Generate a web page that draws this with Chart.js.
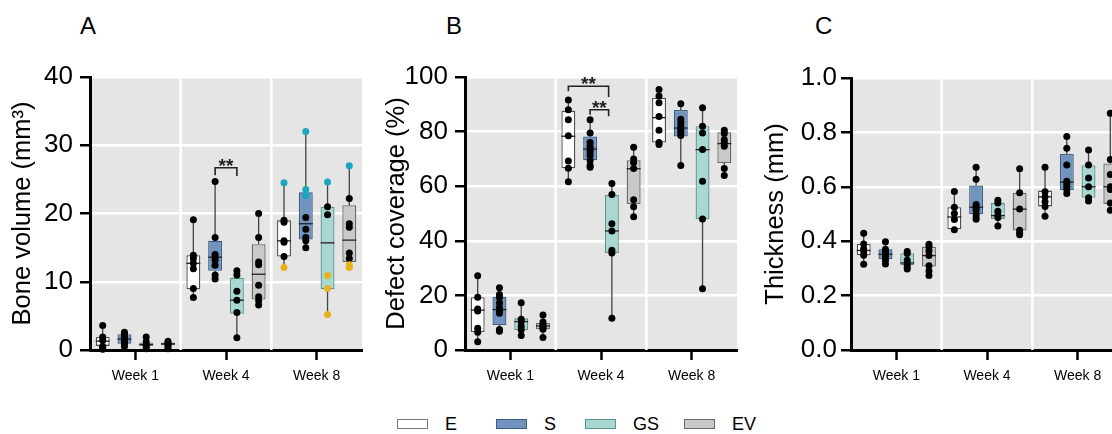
<!DOCTYPE html>
<html>
<head>
<meta charset="utf-8">
<script src="https://cdn.jsdelivr.net/npm/chart.js@4/dist/chart.umd.min.js"></script>
<style>
  html, body { margin:0; padding:0; background:#fff; width:1112px; height:434px; overflow:hidden; position:relative; font-family:"Liberation Sans", Arial, sans-serif; }
  canvas { position:absolute; top:0; }
  .plab { position:absolute; font-size:24px; color:#000; line-height:1; }
  .leg-box { position:absolute; top:419px; width:29px; height:8px; border:1.5px solid #777; }
  .leg-txt { position:absolute; top:414px; font-size:18px; line-height:20px; color:#000; }
</style>
</head>
<body>
<div class="plab" style="left:80px;top:14px">A</div>
<div class="plab" style="left:446px;top:14px">B</div>
<div class="plab" style="left:815px;top:14px">C</div>
<canvas id="cA" width="370" height="400" style="left:0px"></canvas>
<canvas id="cB" width="370" height="400" style="left:370px"></canvas>
<canvas id="cC" width="400" height="400" style="left:740px"></canvas>
<div id="legend"></div>
<script>
// ---------- shared categories / series ----------
const categories = ['Week 1', 'Week 4', 'Week 8'];
const seriesNames = ['E', 'S', 'GS', 'EV'];
const seriesFill = ['#ffffff', '#7193bd', '#a9d8d3', '#c9c9c9'];
const seriesLine = ['#505050', '#3d5c82', '#5f918c', '#686868'];

// ---------- Panel A: Bone volume (mm3) ----------  rows = series (E,S,GS,EV), cols = weeks
const A_min = [[0.1, 7.7, 12.1], [0.5, 10.3, 15.0], [0.2, 1.8, 5.2], [0.2, 6.5, 12.1]];
const A_q1  = [[0.6, 8.9, 13.7], [0.9, 11.6, 16.2], [0.6, 5.3, 8.9], [0.7, 7.4, 12.9]];
const A_med = [[1.3, 12.7, 16.0], [1.6, 13.6, 18.5], [0.8, 7.3, 15.7], [0.9, 11.1, 16.1]];
const A_q3  = [[1.9, 13.9, 19.0], [2.3, 16.0, 23.1], [1.1, 10.6, 21.0], [1.1, 15.5, 21.2]];
const A_max = [[3.6, 19.0, 24.5], [2.6, 24.7, 32.0], [1.9, 11.6, 24.6], [1.3, 20.0, 27.0]];
const A_pts = [
  [[3.6, 1.9, 1.4, 0.5, 0.2, 0.1], [19.1, 13.9, 13.4, 12.7, 11.9, 9.0, 7.7], [19.0, 18.7, 16.0, 15.8, 13.7]],
  [[2.6, 2.3, 2.0, 1.8, 1.5, 1.2, 0.9, 0.5], [24.7, 16.5, 14.0, 13.6, 13.2, 12.4, 11.0, 10.4], [19.4, 17.7, 16.5, 16.0, 15.0]],
  [[1.9, 1.2, 0.8, 0.5, 0.2], [11.6, 11.0, 8.6, 7.3, 5.5, 1.8], [21.0, 19.8]],
  [[1.3, 1.0, 0.8, 0.5, 0.2], [20.0, 16.5, 12.9, 12.5, 9.5, 7.8, 7.2, 6.6], [22.2, 18.5, 18.0, 14.2, 13.4]]
];
const A_ptsCyan = [[[], [], [24.5]], [[], [], [32.0, 23.5, 22.6]], [[], [], [24.6]], [[], [], [27.0]]];
const A_ptsOrange = [[[], [], [12.1]], [[], [], []], [[], [], [10.9, 9.0, 5.2]], [[], [], [12.5, 12.1]]];
const A_ticks = [0, 5, 10, 15, 20, 25, 30, 35, 40];
const A_brackets = [{ group: 1, from: 1, to: 2, y: 26.7, yL: 25.6, yR: 25.5, text: '**' }];

// ---------- Panel B: Defect coverage (%) ----------
const B_min = [[3.0, 61.5, 75.2], [6.9, 66.8, 67.6], [5.2, 11.6, 22.4], [4.6, 48.8, 63.9]];
const B_q1  = [[6.6, 66.6, 76.0], [9.2, 69.5, 78.2], [7.2, 35.5, 47.9], [7.6, 53.5, 68.5]];
const B_med = [[14.6, 78.3, 85.1], [14.8, 73.6, 81.3], [10.4, 43.6, 73.4], [8.8, 66.4, 75.6]];
const B_q3  = [[19.3, 87.6, 92.4], [19.5, 78.2, 87.9], [11.6, 56.8, 82.0], [9.9, 69.5, 79.8]];
const B_max = [[27.2, 91.6, 95.4], [22.8, 84.3, 90.2], [17.3, 61.0, 88.7], [12.8, 74.3, 80.5]];
const B_pts = [
  [[27.2, 19.3, 15.0, 14.3, 8.0, 6.5, 3.0], [91.6, 88.0, 84.3, 78.5, 69.2, 66.6, 61.6], [95.4, 93.0, 90.6, 85.5, 80.5, 76.0, 75.3]],
  [[22.8, 20.3, 19.2, 17.2, 15.5, 14.5, 13.5, 7.5, 6.9], [84.3, 79.5, 76.0, 74.5, 73.5, 72.5, 71.2, 69.3, 67.6, 66.9], [90.2, 84.5, 83.2, 81.8, 80.8, 79.8, 78.6, 67.6]],
  [[17.3, 11.3, 10.4, 8.7, 7.4, 5.3], [61.0, 57.0, 46.2, 43.6, 36.5, 35.5, 11.6], [88.7, 82.0, 79.5, 73.4, 61.8, 48.0, 22.4]],
  [[12.8, 10.3, 9.4, 8.8, 8.2, 7.6, 4.6], [74.3, 70.0, 68.7, 66.5, 55.0, 52.5, 48.8], [80.5, 79.3, 77.0, 76.0, 74.6, 66.5, 63.9]]
];
const B_ticks = [0, 10, 20, 30, 40, 50, 60, 70, 80, 90, 100];
const B_brackets = [
  { group: 1, from: 0, to: 1.85, y: 96.6, yL: 94.8, yR: 92.7, text: '**' },
  { group: 1, from: 1, to: 1.85, y: 88.0, yL: 86.2, yR: 85.6, text: '**' }
];

// ---------- Panel C: Thickness (mm) ----------
const C_min = [[0.315, 0.442, 0.492], [0.316, 0.481, 0.570], [0.298, 0.456, 0.548], [0.274, 0.424, 0.514]];
const C_q1  = [[0.348, 0.444, 0.528], [0.335, 0.500, 0.588], [0.312, 0.482, 0.560], [0.307, 0.439, 0.537]];
const C_med = [[0.366, 0.489, 0.563], [0.352, 0.525, 0.617], [0.320, 0.494, 0.600], [0.347, 0.518, 0.600]];
const C_q3  = [[0.390, 0.525, 0.586], [0.370, 0.605, 0.721], [0.356, 0.540, 0.679], [0.380, 0.578, 0.686]];
const C_max = [[0.429, 0.583, 0.672], [0.398, 0.672, 0.785], [0.362, 0.551, 0.735], [0.389, 0.666, 0.870]];
const C_pts = [
  [[0.429, 0.390, 0.372, 0.362, 0.348, 0.315], [0.583, 0.525, 0.502, 0.480, 0.442], [0.672, 0.582, 0.563, 0.545, 0.528, 0.492]],
  [[0.398, 0.370, 0.360, 0.352, 0.342, 0.330, 0.316], [0.672, 0.628, 0.535, 0.525, 0.515, 0.500, 0.490, 0.481], [0.785, 0.742, 0.680, 0.620, 0.610, 0.600, 0.590, 0.575]],
  [[0.362, 0.355, 0.330, 0.315, 0.305, 0.298], [0.551, 0.540, 0.510, 0.495, 0.487, 0.456], [0.735, 0.680, 0.632, 0.600, 0.560, 0.548]],
  [[0.389, 0.380, 0.365, 0.347, 0.310, 0.290, 0.274], [0.666, 0.578, 0.518, 0.440, 0.430, 0.424], [0.870, 0.700, 0.645, 0.600, 0.590, 0.540, 0.514]]
];
const C_ticks = [0, 0.1, 0.2, 0.3, 0.4, 0.5, 0.6, 0.7, 0.8, 0.9, 1.0];

const PLOT_BG = '#e5e5e5';
const CYAN = '#19a7bd';
const ORANGE = '#e9b11b';

Chart.defaults.font.family = '"Liberation Sans", Arial, sans-serif';

function boxPlugin(cfg) {
  function barX(chart, s, w) {
    const el = chart.getDatasetMeta(s).data[w];
    return { x: el.x, w: el.width };
  }
  function fracX(chart, f, w) {
    const a = Math.floor(f), b = Math.min(Math.ceil(f), seriesNames.length - 1);
    const xa = barX(chart, a, w).x, xb = barX(chart, b, w).x;
    return xa + (xb - xa) * (f - a);
  }
  return {
    id: 'boxExtras',
    beforeDraw(chart) {
      const a = chart.chartArea, ctx = chart.ctx;
      ctx.save();
      ctx.fillStyle = PLOT_BG;
      ctx.fillRect(a.left, a.top, a.right - a.left, a.bottom - a.top);
      ctx.restore();
    },
    beforeDatasetsDraw(chart) {
      const a = chart.chartArea, ctx = chart.ctx, xs = chart.scales.x, ys = chart.scales.y;
      ctx.save();
      ctx.strokeStyle = '#ffffff';
      ctx.lineWidth = 2.5;
      for (let i = 1; i < categories.length; i++) {
        const x = (xs.getPixelForValue(i - 1) + xs.getPixelForValue(i)) / 2;
        ctx.beginPath(); ctx.moveTo(x, a.top); ctx.lineTo(x, a.bottom); ctx.stroke();
      }
      ctx.strokeStyle = '#444';
      ctx.lineWidth = 1.3;
      seriesNames.forEach((n, s) => {
        categories.forEach((c, w) => {
          const { x } = barX(chart, s, w);
          ctx.beginPath();
          ctx.moveTo(x, ys.getPixelForValue(cfg.max_[s][w]));
          ctx.lineTo(x, ys.getPixelForValue(cfg.q3[s][w]));
          ctx.moveTo(x, ys.getPixelForValue(cfg.q1[s][w]));
          ctx.lineTo(x, ys.getPixelForValue(cfg.min_[s][w]));
          ctx.stroke();
        });
      });
      ctx.restore();
    },
    afterDatasetsDraw(chart) {
      const ctx = chart.ctx, ys = chart.scales.y;
      ctx.save();
      seriesNames.forEach((n, s) => {
        categories.forEach((c, w) => {
          const { x, w: bw } = barX(chart, s, w);
          const my = ys.getPixelForValue(cfg.med[s][w]);
          ctx.strokeStyle = '#222';
          ctx.lineWidth = 1.3;
          ctx.beginPath(); ctx.moveTo(x - bw / 2, my); ctx.lineTo(x + bw / 2, my); ctx.stroke();
          const groups = [[cfg.pts[s][w], '#000']];
          if (cfg.cyan) groups.push([cfg.cyan[s][w], CYAN]);
          if (cfg.orange) groups.push([cfg.orange[s][w], ORANGE]);
          groups.forEach(([vals, col]) => {
            ctx.fillStyle = col;
            vals.forEach(v => {
              ctx.beginPath(); ctx.arc(x, ys.getPixelForValue(v), 3.5, 0, Math.PI * 2); ctx.fill();
            });
          });
        });
      });
      (cfg.brackets || []).forEach(b => {
        const x1 = fracX(chart, b.from, b.group), x2 = fracX(chart, b.to, b.group);
        const y = ys.getPixelForValue(b.y);
        ctx.strokeStyle = '#222';
        ctx.lineWidth = 1.6;
        ctx.beginPath();
        ctx.moveTo(x1, ys.getPixelForValue(b.yL));
        ctx.lineTo(x1, y); ctx.lineTo(x2, y);
        ctx.lineTo(x2, ys.getPixelForValue(b.yR));
        ctx.stroke();
        ctx.fillStyle = '#222';
        ctx.font = 'bold 19px "Liberation Sans", Arial, sans-serif';
        ctx.textAlign = 'center';
        ctx.textBaseline = 'alphabetic';
        ctx.fillText(b.text, (x1 + x2) / 2, y + 4);
      });
      ctx.restore();
    }
  };
}

function makePanel(id, cfg) {
  const datasets = seriesNames.map((name, s) => ({
    label: name,
    data: categories.map((c, w) => [cfg.q1[s][w], cfg.q3[s][w]]),
    backgroundColor: seriesFill[s],
    borderColor: seriesLine[s],
    borderWidth: 1.3,
    borderSkipped: false,
    categoryPercentage: 0.96,
    barPercentage: 0.64
  }));
  new Chart(document.getElementById(id), {
    type: 'bar',
    data: { labels: categories, datasets },
    options: {
      responsive: false, animation: false, devicePixelRatio: 1,
      layout: { padding: { top: cfg.top, right: cfg.padRight, bottom: 10, left: 0 } },
      plugins: { legend: { display: false }, tooltip: { enabled: false } },
      scales: {
        x: {
          offset: true,
          grid: { offset: false, drawOnChartArea: false, tickLength: 10, tickColor: '#000', tickWidth: 2.5 },
          border: { color: '#000', width: 3 },
          ticks: { color: '#000', font: { size: 14 }, padding: 8 },
          afterFit(s) { s.height = 40; }
        },
        y: {
          min: cfg.ticks[0], max: cfg.ticks[cfg.ticks.length - 1],
          afterBuildTicks(s) { s.ticks = cfg.ticks.map(v => ({ value: v })); },
          grid: {
            color: c => (c.tick && c.tick.value === 0) ? 'rgba(0,0,0,0)' : '#ffffff',
            lineWidth: 2.5, tickLength: 10, tickColor: '#000', tickWidth: 2.5
          },
          border: { color: '#000', width: 3 },
          ticks: { color: '#000', font: { size: 26 }, padding: cfg.tickPad, callback: v => cfg.label(v) },
          title: { display: true, text: cfg.title, color: '#000', font: { size: 25.5 }, padding: { top: cfg.titlePad, bottom: 0 } },
          afterFit(s) { s.width = cfg.yWidth; }
        }
      }
    },
    plugins: [boxPlugin(cfg)]
  });
}

makePanel('cA', {
  min_: A_min, q1: A_q1, med: A_med, q3: A_q3, max_: A_max, pts: A_pts, cyan: A_ptsCyan, orange: A_ptsOrange,
  ticks: A_ticks, brackets: A_brackets, title: 'Bone volume (mm³)',
  label: v => (v % 10 === 0 ? String(v) : ''),
  top: 77, padRight: 8, yWidth: 90, tickPad: 7, titlePad: 8
});
makePanel('cB', {
  min_: B_min, q1: B_q1, med: B_med, q3: B_q3, max_: B_max, pts: B_pts,
  ticks: B_ticks, brackets: B_brackets, title: 'Defect coverage (%)',
  label: v => (v % 20 === 0 ? String(v) : ''),
  top: 77, padRight: 3, yWidth: 95, tickPad: 7, titlePad: 12
});
makePanel('cC', {
  min_: C_min, q1: C_q1, med: C_med, q3: C_q3, max_: C_max, pts: C_pts,
  ticks: C_ticks, title: 'Thickness (mm)',
  label: v => (Math.round(v * 10) % 2 === 0 ? v.toFixed(1) : ''),
  top: 78, padRight: 17, yWidth: 111, tickPad: 4, titlePad: 21
});

// legend (HTML)
const legendLeft = [397, 496, 585, 684];
const legend = document.getElementById('legend');
seriesNames.forEach((n, s) => {
  const b = document.createElement('div');
  b.className = 'leg-box';
  b.style.left = legendLeft[s] + 'px';
  b.style.background = seriesFill[s];
  b.style.borderColor = s === 0 ? '#777' : seriesLine[s];
  legend.appendChild(b);
  const t = document.createElement('div');
  t.className = 'leg-txt';
  t.style.left = (legendLeft[s] + 48) + 'px';
  t.textContent = n;
  legend.appendChild(t);
});
</script>
</body>
</html>
